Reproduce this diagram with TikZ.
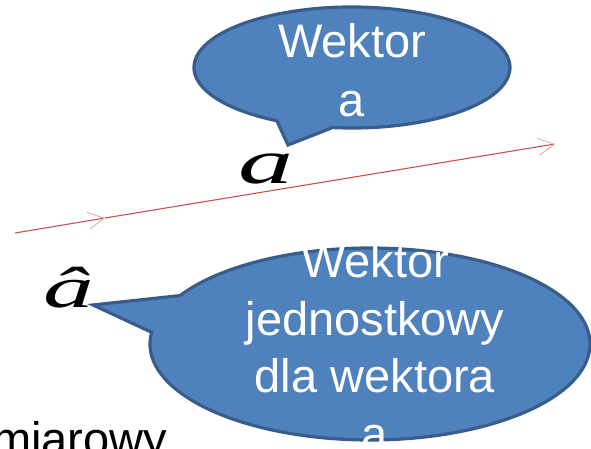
\documentclass[tikz,border=0pt]{standalone}
\usepackage{fontspec}
\setmainfont{Liberation Sans}
\newfontfamily\lserif{Liberation Serif}
\usetikzlibrary{arrows.meta}
\definecolor{cfill}{RGB}{79,129,189}
\definecolor{cborder}{RGB}{56,93,138}
\definecolor{vecred}{RGB}{200,82,80}
\definecolor{tippink}{RGB}{238,160,160}
\tikzset{
  callout/.style={fill=cfill, draw=cborder, line width=3.2pt, line join=miter},
  ctext/.style={anchor=base, inner sep=0pt, text=white, font=\fontsize{47}{57}\selectfont},
  vec/.style={draw=vecred, line width=1.1pt,
    -{Straight Barb[length=16pt, width=17pt, line width=0.8pt, color=tippink]}},
  symb/.style={anchor=base, inner sep=0pt, text=black},
  plain/.style={anchor=base west, inner sep=0pt, text=black, font=\fontsize{47}{57}\selectfont}
}
\begin{document}
\begin{tikzpicture}[x=1pt, y=1pt]
\useasboundingbox (0,0) rectangle (591,449);
\clip (0,0) rectangle (591,449);
% top callout
\path[callout] (332.7,321.45) arc[start angle=263, end angle=601.6, x radius=158, y radius=60.5]
  -- (288,304) -- cycle;
\node[ctext] (t1) at (352,391) {Wektor};
\node[ctext] (t2) at (352,332) {a};
% vector line
\coordinate (s) at (15,216);
\coordinate (m) at (105,231);
\coordinate (e) at (555,305);
\draw[vec] (s) -- (m);
\draw[vec] (m) -- (e);
% symbol a
\node[symb] (va) at (266,265) {\fontsize{63}{63}\selectfont\scalebox{1.75}[1]{\lserif\itshape a}};
% lower callout
\path[callout] (151.64,116.7) arc[start angle=173, end angle=509.7, x radius=220, y radius=96]
  -- (93,144) -- cycle;
\node[ctext] (b1) at (375,171) {Wektor};
\node[ctext] (b2) at (375,113.5) {jednostkowy};
\node[ctext] (b3) at (375,56) {dla wektora};
\node[ctext] (b4) at (375,-1.5) {a};
% unit vector symbol
\node[symb] (ua) at (69,141) {\fontsize{58}{58}\selectfont\scalebox{1.75}[1]{\lserif\itshape â}};
% bottom text
\node[plain] (mi) at (-8,-7) {miarowy};
\end{tikzpicture}
\end{document}
